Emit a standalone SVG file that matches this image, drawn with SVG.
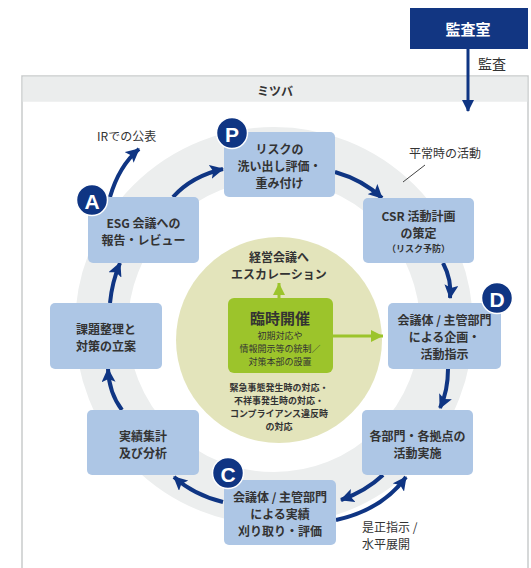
<svg xmlns="http://www.w3.org/2000/svg" width="531" height="568" viewBox="0 0 531 568">
<style>
  text { font-family: "Noto Sans CJK JP", "Noto Sans", sans-serif; fill: #333; }
  .bt { font-size: 12px; font-weight: bold; text-anchor: middle; dominant-baseline: central; }
  .st { font-size: 9px; font-weight: bold; text-anchor: middle; dominant-baseline: central; }
  .lb { font-size: 12px; dominant-baseline: central; }
  .box { fill: #adc6e5; }
  .arr { fill: none; stroke: #0f3583; stroke-width: 4; marker-end: url(#ah); }
  .garr { fill: none; stroke: #9cc42b; stroke-width: 3; marker-end: url(#gh); }
  .badge { fill: #0f3583; stroke: #fff; stroke-width: 1.5; }
  .bl { font-family: "Liberation Sans", "Noto Sans", sans-serif; font-size: 21px; font-weight: bold; fill: #fff; text-anchor: middle; dominant-baseline: central; }
</style>
<defs>
  <marker id="ah" markerUnits="userSpaceOnUse" markerWidth="15" markerHeight="14" refX="13" refY="7" orient="auto">
    <path d="M0,0 L14,7 L0,14 L3,7 z" fill="#0f3583"/>
  </marker>
  <marker id="gh" markerUnits="userSpaceOnUse" markerWidth="13" markerHeight="12" refX="12" refY="6" orient="auto">
    <path d="M0,0 L12,6 L0,12 z" fill="#9cc42b"/>
  </marker>
  <marker id="nh" markerUnits="userSpaceOnUse" markerWidth="12" markerHeight="12" refX="11" refY="6" orient="auto">
    <path d="M0,0 L12,6 L0,12 z" fill="#0f3583"/>
  </marker>
</defs>

<!-- audit office -->
<g id="audit">
  <rect x="410" y="8" width="118" height="41" fill="#123682"/>
  <text x="468" y="28" style="font-size:15px;font-weight:bold;fill:#fff;text-anchor:middle;dominant-baseline:central">監査室</text>
</g>

<!-- panel -->
<g id="panel">
  <rect x="22" y="76" width="506" height="500" fill="#fff" stroke="#c9cbcc" stroke-width="1.5"/>
  <rect x="22.75" y="76.75" width="504.5" height="25" fill="#ebeded"/>
  <text x="275" y="90" style="font-size:12px;font-weight:bold;text-anchor:middle;dominant-baseline:central">ミツバ</text>
</g>

<!-- ring -->
<circle cx="274" cy="326" r="172.5" fill="none" stroke="#eceeee" stroke-width="53"/>

<!-- center circle -->
<g id="center">
  <circle cx="279" cy="340" r="103" fill="#e3e4bb"/>
  <text class="bt" x="279" y="256">経営会議へ</text>
  <text class="bt" x="279" y="273">エスカレーション</text>
  <rect x="228" y="298" width="105" height="75" rx="6" fill="#9cc42b"/>
  <text x="280" y="317" style="font-size:15px;font-weight:bold;text-anchor:middle;dominant-baseline:central">臨時開催</text>
  <text class="st" x="280" y="335" style="font-weight:normal">初期対応や</text>
  <text class="st" x="280" y="348" style="font-weight:normal">情報開示等の統制／</text>
  <text class="st" x="280" y="361" style="font-weight:normal">対策本部の設置</text>
  <text class="st" x="279" y="387">緊急事態発生時の対応・</text>
  <text class="st" x="279" y="400">不祥事発生時の対応・</text>
  <text class="st" x="279" y="413">コンプライアンス違反時</text>
  <text class="st" x="279" y="426">の対応</text>
</g>

<!-- connectors -->
<g id="connectors">
  <path d="M468,49 L468,111" fill="none" stroke="#0f3583" stroke-width="3" marker-end="url(#nh)"/>
  <path class="arr" d="M173,197 Q192,176 223,169"/>
  <path class="arr" d="M110,197 Q119,166 139,149"/>
  <path class="arr" d="M335,172 Q363,180 382,198"/>
  <path class="arr" d="M443,263 Q452,280 450,298"/>
  <path class="arr" d="M448,369 Q448,391 440,408"/>
  <path class="arr" d="M383,475 Q366,491 341,500"/>
  <path class="arr" d="M336,520 Q382,510 406,477"/>
  <path class="arr" d="M223,502 Q194,495 174,477"/>
  <path class="arr" d="M122,410 Q109,393 108,369"/>
  <path class="arr" d="M110,303 Q112,282 120,263"/>
  <path class="garr" d="M279,298 L279,283"/>
  <path class="garr" d="M333,336 L383,336"/>
  <path d="M425,165 L403,182" stroke="#444" stroke-width="1" fill="none"/>
</g>

<!-- labels -->
<text class="lb" x="478" y="63" style="font-size:14px">監査</text>
<text class="lb" x="97" y="135">IRでの公表</text>
<text class="lb" x="409" y="152">平常時の活動</text>
<text class="lb" x="362" y="526">是正指示 /</text>
<text class="lb" x="362" y="543">水平展開</text>

<!-- nodes -->
<g id="nodeP">
  <rect class="box" x="224" y="132" width="111" height="65" rx="5"/>
  <text class="bt" x="279.5" y="148">リスクの</text>
  <text class="bt" x="279.5" y="165">洗い出し評価・</text>
  <text class="bt" x="279.5" y="182">重み付け</text>
  <circle class="badge" cx="232" cy="133" r="15.5"/>
  <text class="bl" x="232" y="134">P</text>
</g>
<g id="nodeCSR">
  <rect class="box" x="363" y="198" width="111" height="65" rx="5"/>
  <text class="bt" x="418.5" y="215">CSR 活動計画</text>
  <text class="bt" x="418.5" y="232">の策定</text>
  <text class="st" x="418.5" y="248">（リスク予防）</text>
</g>
<g id="nodeD">
  <rect class="box" x="388" y="303" width="113" height="66" rx="5"/>
  <text class="bt" x="444.5" y="319">会議体 / 主管部門</text>
  <text class="bt" x="444.5" y="336">による企画・</text>
  <text class="bt" x="444.5" y="353">活動指示</text>
  <circle class="badge" cx="497" cy="298" r="15.5"/>
  <text class="bl" x="497" y="299">D</text>
</g>
<g id="nodeDo">
  <rect class="box" x="362" y="410" width="111" height="65" rx="5"/>
  <text class="bt" x="417.5" y="435">各部門・各拠点の</text>
  <text class="bt" x="417.5" y="452">活動実施</text>
</g>
<g id="nodeC">
  <rect class="box" x="224" y="480" width="112" height="65" rx="5"/>
  <text class="bt" x="280" y="496">会議体 / 主管部門</text>
  <text class="bt" x="280" y="513">による実績</text>
  <text class="bt" x="280" y="530">刈り取り・評価</text>
  <circle class="badge" cx="228" cy="473" r="15.5"/>
  <text class="bl" x="228" y="474">C</text>
</g>
<g id="nodeAnalysis">
  <rect class="box" x="87" y="410" width="112" height="65" rx="5"/>
  <text class="bt" x="143" y="435">実績集計</text>
  <text class="bt" x="143" y="452">及び分析</text>
</g>
<g id="nodePlan">
  <rect class="box" x="50" y="303" width="112" height="66" rx="5"/>
  <text class="bt" x="106" y="328">課題整理と</text>
  <text class="bt" x="106" y="345">対策の立案</text>
</g>
<g id="nodeA">
  <rect class="box" x="88" y="197" width="111" height="66" rx="5"/>
  <text class="bt" x="143.5" y="222">ESG 会議への</text>
  <text class="bt" x="143.5" y="239">報告・レビュー</text>
  <circle class="badge" cx="92" cy="200" r="15.5"/>
  <text class="bl" x="92" y="201">A</text>
</g>
</svg>
